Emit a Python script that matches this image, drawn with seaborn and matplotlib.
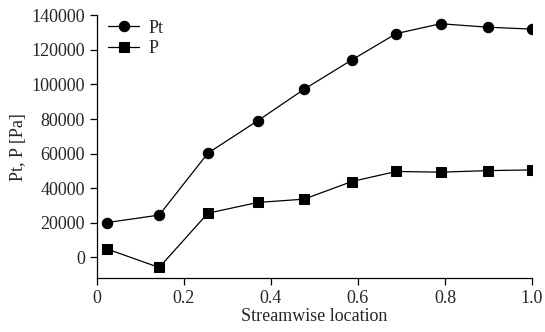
import pandas as pd
import matplotlib
matplotlib.use("Agg")
import matplotlib.pyplot as plt
import seaborn as sns

# data
location = [0.024, 0.143, 0.255, 0.370, 0.476, 0.586, 0.688, 0.790, 0.899, 1.0]
pt_values = [20200, 24500, 60300, 79100, 97200, 114200, 129400, 135100, 133100, 132000]
p_values = [4800, -5800, 25600, 31800, 33700, 43900, 49700, 49300, 50200, 50600]

df = pd.concat([
    pd.DataFrame({"x": location, "y": pt_values, "series": "Pt"}),
    pd.DataFrame({"x": location, "y": p_values, "series": "P"}),
])

sns.set_style("ticks")
plt.rcParams["font.family"] = ["Liberation Serif", "DejaVu Serif"]

fig = plt.figure(figsize=(5.45, 3.32), dpi=100)
ax = fig.add_axes([0.178, 0.162, 0.798, 0.792])
sns.lineplot(data=df, x="x", y="y", hue="series", style="series",
             markers={"Pt": "o", "P": "s"}, dashes=False,
             palette={"Pt": "black", "P": "black"},
             markersize=7.5, linewidth=0.9, markeredgecolor="black",
             ax=ax)

ax.set_xlim(0, 1.0)
ax.set_ylim(-12000, 140000)
ax.set_xticks([0, 0.2, 0.4, 0.6, 0.8, 1.0])
ax.set_xticklabels(["0", "0.2", "0.4", "0.6", "0.8", "1.0"])
ax.set_yticks(range(0, 140001, 20000))
ax.tick_params(labelsize=13, length=5, width=0.9, color="black")
ax.set_xlabel("Streamwise location", fontsize=13, labelpad=1)
ax.set_ylabel("Pt, P [Pa]", fontsize=13, labelpad=3)
sns.despine(ax=ax)
for s in ["left", "bottom"]:
    ax.spines[s].set_linewidth(0.9)
    ax.spines[s].set_color("black")

leg = ax.legend(loc="upper left", frameon=False, fontsize=13,
                handlelength=1.75, borderaxespad=0.2, handletextpad=0.5,
                labelspacing=0.2, bbox_to_anchor=(0.0, 1.025))

fig.savefig("out.png", dpi=100)
